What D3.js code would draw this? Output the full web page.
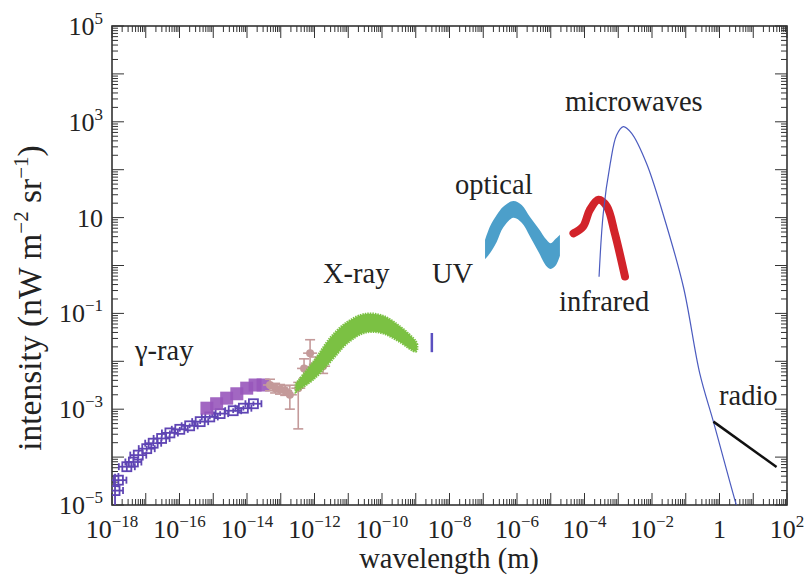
<!DOCTYPE html>
<html>
<head>
<meta charset="utf-8">
<script src="https://cdn.jsdelivr.net/npm/d3@7"></script>
<style>
  body { margin: 0; background: #fff; }
  svg { display: block; }
  text { font-family: "Liberation Serif", "Times New Roman", serif; fill: #222; }
</style>
</head>
<body>
<svg id="chart"></svg>
<script>
// ---- data (wavelength in m, intensity in nW m^-2 sr^-1)
const gammaLoX = [1.23e-18, 1.55e-18, 2.75e-18, 4.3e-18, 6.0e-18, 1.07e-17, 1.66e-17, 2.95e-17, 5.2e-17, 1.02e-16, 2.0e-16, 4.1e-16, 7.9e-16, 1.6e-15, 3.9e-15, 7.8e-15, 1.55e-14]
const gammaLoY = [2.0e-5, 3.3e-5, 6.3e-5, 7.9e-5, 1.1e-4, 1.5e-4, 1.95e-4, 2.45e-4, 3.2e-4, 3.8e-4, 4.5e-4, 5.5e-4, 6.9e-4, 8.1e-4, 9.3e-4, 1.05e-3, 1.3e-3]
const gammaLoErr = [0.35, 0.15, 0.1, 0.08, 0.07, 0.06, 0.06, 0.05, 0.05, 0.05, 0.05, 0.05, 0.05, 0.05, 0.05, 0.05, 0.05]

const gammaHiX = [6.5e-16, 1.26e-15, 2.5e-15, 5.0e-15, 9.8e-15, 1.74e-14, 3.0e-14]
const gammaHiY = [1.05e-3, 1.3e-3, 1.7e-3, 2.1e-3, 2.75e-3, 3.2e-3, 3.2e-3]

const mixX = [4.8e-14, 6.8e-14, 9.5e-14, 1.35e-13, 1.86e-13, 3.3e-13, 4.9e-13, 7.4e-13, 1.1e-12, 1.8e-12]
const mixY = [3.2e-3, 2.75e-3, 2.6e-3, 2.45e-3, 2.0e-3, 2.75e-3, 7.1e-3, 1.48e-2, 8.7e-3, 7.9e-3]
const mixErrLo = [0.12, 0.1, 0.1, 0.1, 0.3, 0.85, 0.2, 0.28, 0.15, 0.15]
const mixErrHi = [0.12, 0.1, 0.1, 0.1, 0.2, 0.12, 0.2, 0.28, 0.15, 0.15]

const xrayX  = [2.8e-13, 1e-12, 3.2e-12, 1e-11, 3.2e-11, 1e-10, 3.2e-10, 1e-9, 1.1e-9]
const xrayHi = [3.4e-3, 1.05e-2, 3.3e-2, 6.8e-2, 9.7e-2, 9.0e-2, 5.5e-2, 2.6e-2, 2.2e-2]
const xrayLo = [2.3e-3, 4.4e-3, 1.05e-2, 2.5e-2, 4.0e-2, 3.9e-2, 2.6e-2, 1.6e-2, 1.8e-2]

const uvX = 3.0e-9
const uvRange = [1.55e-2, 3.9e-2]

const optX  = [1.13e-7, 1.58e-7, 2.5e-7, 3.9e-7, 7.8e-7, 1.38e-6, 2.4e-6, 4.3e-6, 7.6e-6, 1.0e-5, 1.4e-5, 1.87e-5]
const optHi = [3.4, 6.5, 11.3, 16.9, 22.2, 18.3, 10.4, 6.0, 3.4, 2.9, 3.6, 4.4]
const optLo = [1.35, 1.8, 3.1, 6.2, 9.9, 7.8, 4.1, 1.94, 0.95, 0.85, 1.0, 1.6]

const irX = [4.7e-5, 9.1e-5, 1.44e-4, 2.6e-4, 4.6e-4, 7.9e-4, 1.58e-3]
const irY = [4.7, 6.5, 14.5, 23.5, 17, 4.7, 0.59]

const cmbX = [2.7e-4, 3.6e-4, 5.8e-4, 8.9e-4, 1.41e-3, 2.5e-3, 6.9e-3, 2.1e-2, 8.5e-2, 0.26, 0.66, 1.62, 3.2]
const cmbY = [0.58, 12.3, 135, 525, 794, 575, 135, 12.3, 0.36, 5.6e-3, 5.5e-4, 5.4e-5, 9.5e-6]

const radioX = [0.66, 49]
const radioY = [5.5e-4, 6.2e-5]

const xLabelExps = [-18, -16, -14, -12, -10, -8, -6, -4, -2, 0, 2]
const yLabelExps = [-5, -3, -1, 1, 3, 5]

// ---- layout
const width = 810
const height = 578
const L = 112, R = 787, T = 26, B = 505

const svg = d3.select('#chart').attr('width', width).attr('height', height)

const x = d3.scaleLog().domain([1e-18, 1e2]).range([L, R])
const y = d3.scaleLog().domain([1e-5, 1e5]).range([B, T])

svg.append('defs').append('clipPath').attr('id', 'plot')
  .append('rect').attr('x', L).attr('y', T).attr('width', R - L).attr('height', B - T)

// ticks (inside, all four sides)
const frame = svg.append('g').attr('stroke', '#333').attr('stroke-width', 1)
function decadeTicks(lo, hi) {
  const out = []
  for (let e = lo; e < hi; e++) {
    for (let k = 1; k <= 9; k++) out.push({ v: k * Math.pow(10, e), major: k === 1 })
  }
  out.push({ v: Math.pow(10, hi), major: true })
  return out
}
decadeTicks(-18, 2).forEach(t => {
  const len = t.major ? 12 : 6
  const px = x(t.v)
  frame.append('line').attr('x1', px).attr('x2', px).attr('y1', B).attr('y2', B - len)
  frame.append('line').attr('x1', px).attr('x2', px).attr('y1', T).attr('y2', T + len)
})
decadeTicks(-5, 5).forEach(t => {
  const len = t.major ? 12 : 6
  const py = y(t.v)
  frame.append('line').attr('y1', py).attr('y2', py).attr('x1', L).attr('x2', L + len)
  frame.append('line').attr('y1', py).attr('y2', py).attr('x1', R).attr('x2', R - len)
})
svg.append('rect').attr('x', L).attr('y', T).attr('width', R - L).attr('height', B - T)
  .attr('fill', 'none').attr('stroke', '#333').attr('stroke-width', 1.6)

// tick labels
function powLabel(sel, e) {
  if (e === 0) { sel.append('tspan').text('1'); return }
  if (e === 1) { sel.append('tspan').text('10'); return }
  sel.append('tspan').text('10')
  sel.append('tspan').attr('font-size', 17).attr('dy', -11).text(String(e).replace('-', '\u2212'))
}
xLabelExps.forEach(e => {
  const t = svg.append('text').attr('x', x(Math.pow(10, e))).attr('y', B + 33)
    .attr('text-anchor', 'middle').attr('font-size', 26)
  powLabel(t, e)
})
yLabelExps.forEach(e => {
  const t = svg.append('text').attr('x', L - 9).attr('y', y(Math.pow(10, e)) + 9)
    .attr('text-anchor', 'end').attr('font-size', 26)
  powLabel(t, e)
})

// axis titles
svg.append('text').attr('x', 449).attr('y', 568).attr('text-anchor', 'middle')
  .attr('font-size', 28.5).text('wavelength (m)')
const yt = svg.append('text').attr('transform', 'translate(41,298) rotate(-90)')
  .attr('text-anchor', 'middle').attr('font-size', 33.5)
yt.append('tspan').text('intensity (nW m')
yt.append('tspan').attr('font-size', 21).attr('dy', -13).text('\u22122')
yt.append('tspan').attr('dy', 13).text(' sr')
yt.append('tspan').attr('font-size', 21).attr('dy', -13).text('\u22121')
yt.append('tspan').attr('dy', 13).text(')')

// ---- data marks
const plot = svg.append('g').attr('clip-path', 'url(#plot)')

// gamma-ray, lower set: open squares with bars
const loCol = '#5f45b4'
const gLo = plot.append('g').attr('stroke', loCol).attr('fill', 'none').attr('stroke-width', 1.8)
gammaLoX.forEach((v, i) => {
  const cx = x(v), cy = y(gammaLoY[i])
  const e = Math.pow(10, gammaLoErr[i])
  gLo.append('line').attr('x1', cx).attr('x2', cx).attr('y1', y(gammaLoY[i] / e)).attr('y2', y(gammaLoY[i] * e))
  gLo.append('line').attr('x1', cx - 8).attr('x2', cx + 8).attr('y1', cy).attr('y2', cy)
  gLo.append('line').attr('x1', cx - 8).attr('x2', cx - 8).attr('y1', cy - 3.5).attr('y2', cy + 3.5)
  gLo.append('line').attr('x1', cx + 8).attr('x2', cx + 8).attr('y1', cy - 3.5).attr('y2', cy + 3.5)
  gLo.append('rect').attr('x', cx - 4.5).attr('y', cy - 4.5).attr('width', 9).attr('height', 9)
})

// gamma-ray, upper set: filled squares
plot.append('g').selectAll('rect').data(gammaHiX).join('rect')
  .attr('x', d => x(d) - 6.5).attr('y', (d, i) => y(gammaHiY[i]) - 6.5)
  .attr('width', 13).attr('height', 13)
  .attr('fill', '#9857bb').attr('opacity', 0.9)

// mixed points with error bars
const mixCol = '#c49a9a'
const gMix = plot.append('g').attr('stroke', mixCol).attr('stroke-width', 1.6)
mixX.forEach((v, i) => {
  const cx = x(v), cy = y(mixY[i])
  const y1 = y(mixY[i] / Math.pow(10, mixErrLo[i])), y2 = y(mixY[i] * Math.pow(10, mixErrHi[i]))
  gMix.append('line').attr('x1', cx).attr('x2', cx).attr('y1', y1).attr('y2', y2)
  gMix.append('line').attr('x1', cx - 5).attr('x2', cx + 5).attr('y1', y1).attr('y2', y1)
  gMix.append('line').attr('x1', cx - 5).attr('x2', cx + 5).attr('y1', y2).attr('y2', y2)
  gMix.append('line').attr('x1', cx - 7).attr('x2', cx + 7).attr('y1', cy).attr('y2', cy)
  gMix.append('circle').attr('cx', cx).attr('cy', cy).attr('r', 4).attr('fill', mixCol).attr('stroke', 'none')
})

// X-ray band
const xray = xrayX.map((v, i) => ({ x: v, hi: xrayHi[i], lo: xrayLo[i] }))
plot.append('path').datum(xray)
  .attr('d', d3.area().x(d => x(d.x)).y0(d => y(d.lo)).y1(d => y(d.hi)).curve(d3.curveCatmullRom))
  .attr('fill', '#7bc143').attr('stroke', '#7bc143').attr('stroke-width', 2.5)
  .attr('stroke-dasharray', '1.5 1')

// UV
plot.append('line').attr('x1', x(uvX)).attr('x2', x(uvX))
  .attr('y1', y(uvRange[0])).attr('y2', y(uvRange[1]))
  .attr('stroke', '#5b50c0').attr('stroke-width', 2.5)

// optical band
const opt = optX.map((v, i) => ({ x: v, hi: optHi[i], lo: optLo[i] }))
plot.append('path').datum(opt)
  .attr('d', d3.area().x(d => x(d.x)).y0(d => y(d.lo)).y1(d => y(d.hi)).curve(d3.curveCatmullRom))
  .attr('fill', '#4c9fca')

// infrared
const line = d3.line().x(d => x(d[0])).y(d => y(d[1])).curve(d3.curveCatmullRom)
plot.append('path').datum(irX.map((v, i) => [v, irY[i]]))
  .attr('d', line).attr('fill', 'none')
  .attr('stroke', '#d2232a').attr('stroke-width', 8).attr('stroke-linecap', 'round')

// CMB
plot.append('path').datum(cmbX.map((v, i) => [v, cmbY[i]]))
  .attr('d', line).attr('fill', 'none')
  .attr('stroke', '#4b5bbf').attr('stroke-width', 1.2)

// radio
plot.append('path').datum(radioX.map((v, i) => [v, radioY[i]]))
  .attr('d', d3.line().x(d => x(d[0])).y(d => y(d[1])))
  .attr('fill', 'none').attr('stroke', '#111').attr('stroke-width', 2.5)

// band labels
const labels = [
  { t: '\u03b3-ray', x: 135, y: 360 },
  { t: 'X-ray', x: 323, y: 283 },
  { t: 'UV', x: 432, y: 283 },
  { t: 'optical', x: 455, y: 194 },
  { t: 'infrared', x: 559, y: 311 },
  { t: 'microwaves', x: 565, y: 111 },
  { t: 'radio', x: 719, y: 405 }
]
svg.append('g').selectAll('text').data(labels).join('text')
  .attr('x', d => d.x).attr('y', d => d.y).attr('font-size', 28.5).text(d => d.t)
</script>
</body>
</html>
